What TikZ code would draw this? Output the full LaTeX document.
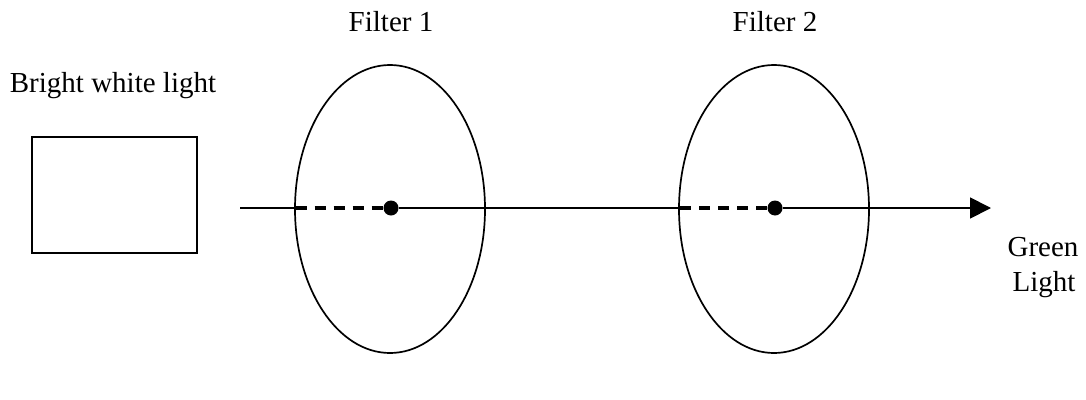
\documentclass[tikz,border=0pt]{standalone}
\usepackage{fontspec}
\setmainfont{Liberation Serif}
\usetikzlibrary{shapes.geometric,arrows.meta}
\begin{document}
\begin{tikzpicture}[x=1pt,y=-1pt,
  lbl/.style={font=\fontsize{29}{35}\selectfont, inner sep=0pt, anchor=base},
  filter/.style={draw, ellipse, line width=1.7pt, minimum width=190pt, minimum height=288pt, inner sep=0pt},
  srcbox/.style={draw, line width=1.9pt, minimum width=165pt, minimum height=116pt, inner sep=0pt},
  dotmark/.style={circle, fill=black, minimum size=15pt, inner sep=0pt},
  beam/.style={line width=1.8pt},
  hidden/.style={line width=3.2pt, dash pattern=on 11pt off 8pt}]
\useasboundingbox (0,0) rectangle (1086,399);
\node[srcbox] (src) at (114.5,195) {};
\node[lbl] (srclbl) at (113,92) {Bright white light};
\node[filter] (f1) at (390,209) {};
\node[filter] (f2) at (774,209) {};
\node[lbl] (f1lbl) at (391,31) {Filter 1};
\node[lbl] (f2lbl) at (775,31) {Filter 2};
\node[dotmark] (d1) at (391,208) {};
\node[dotmark] (d2) at (775,208) {};
\coordinate (start) at (240,208);
\coordinate (e1) at (295.5,208);
\coordinate (e2) at (680,208);
\coordinate (tip) at (991,208);
\node[lbl] (green) at (1043,256) {Green};
\node[lbl] (light) at (1044,291) {Light};
\draw[beam] (start) -- (e1);
\draw[hidden] (e1) -- (d1.west);
\draw[beam] (d1) -- (e2);
\draw[hidden] (e2) -- (d2.west);
\draw[beam, -{Triangle[length=21pt,width=21pt]}] (d2) -- (tip);
\end{tikzpicture}
\end{document}
